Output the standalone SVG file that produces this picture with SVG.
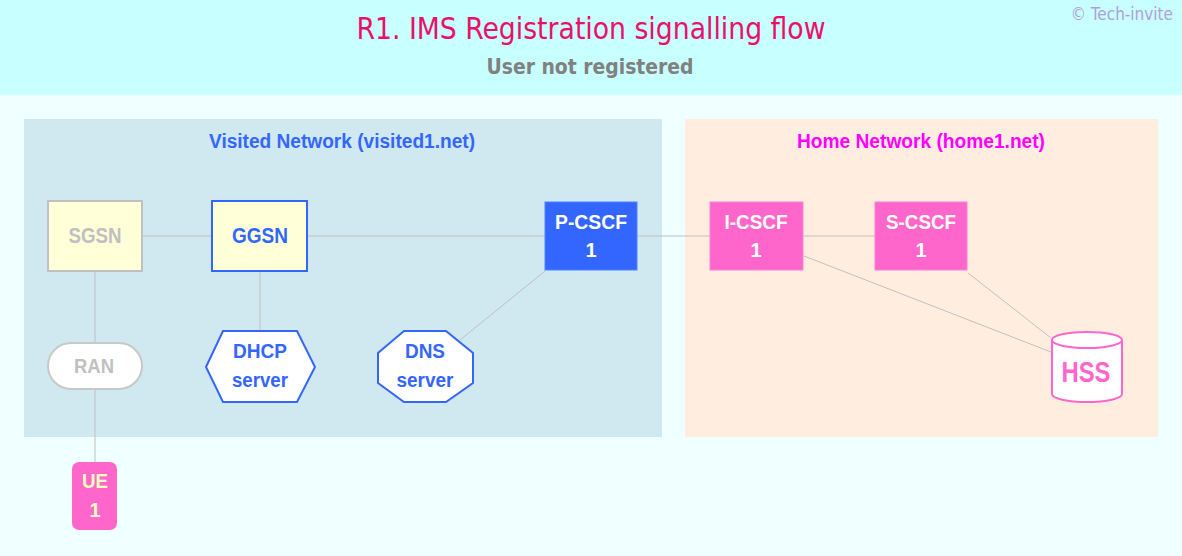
<svg xmlns="http://www.w3.org/2000/svg" width="1182" height="556" viewBox="0 0 1182 556">
<style>
.lbl{font-family:"Liberation Sans",Arial,sans-serif;font-weight:bold;font-size:20px;text-anchor:middle}
.conn line{stroke:#c0c0c0;stroke-width:1}
</style>
<rect x="0" y="0" width="1182" height="556" fill="#f0ffff"/>
<rect x="0" y="0" width="1182" height="95" fill="#c8ffff"/>
<text x="591" y="39" font-family="'DejaVu Sans Condensed','DejaVu Sans',sans-serif" font-size="30" fill="#e8106a" text-anchor="middle" textLength="469" lengthAdjust="spacingAndGlyphs">R1. IMS Registration signalling flow</text>
<text x="590" y="74" font-family="'DejaVu Sans Condensed','DejaVu Sans',sans-serif" font-weight="bold" font-size="21" fill="#808080" text-anchor="middle" textLength="207" lengthAdjust="spacingAndGlyphs">User not registered</text>
<text x="1173" y="20" font-family="'DejaVu Sans Condensed','DejaVu Sans',sans-serif" font-size="17" fill="#b0a0d8" text-anchor="end">© Tech-invite</text>

<g id="visited-network">
<rect x="24" y="119" width="638" height="318" fill="#d0e8f0"/>
<text x="342" y="148" class="lbl" fill="#3366ff" textLength="266" lengthAdjust="spacingAndGlyphs">Visited Network (visited1.net)</text>
</g>
<g id="home-network">
<rect x="685" y="119" width="473" height="318" fill="#ffeee0"/>
<text x="921" y="148" class="lbl" fill="#ff00ff" textLength="248" lengthAdjust="spacingAndGlyphs">Home Network (home1.net)</text>
</g>

<g id="connectors" class="conn">
<line x1="142" y1="236" x2="212" y2="236"/>
<line x1="307" y1="236" x2="545" y2="236"/>
<line x1="637" y1="236" x2="710" y2="236"/>
<line x1="803" y1="236" x2="875" y2="236"/>
<line x1="95" y1="271" x2="95" y2="343"/>
<line x1="95" y1="389" x2="95" y2="462"/>
<line x1="260" y1="271" x2="260" y2="331"/>
<line x1="545" y1="271" x2="460" y2="340"/>
<line x1="804" y1="256" x2="1051" y2="352"/>
<line x1="968" y1="273" x2="1051" y2="338"/>
</g>

<g id="SGSN">
<rect x="48" y="201" width="94" height="70" fill="#ffffd8" stroke="#c0c0c0" stroke-width="2"/>
<text x="95" y="243" class="lbl" style="font-size:22px" fill="#c0c0c0" textLength="53" lengthAdjust="spacingAndGlyphs">SGSN</text>
</g>
<g id="GGSN">
<rect x="212" y="201" width="95" height="70" fill="#ffffd8" stroke="#3366ff" stroke-width="2"/>
<text x="260" y="243" class="lbl" style="font-size:22px" fill="#3366ff" textLength="56" lengthAdjust="spacingAndGlyphs">GGSN</text>
</g>
<g id="P-CSCF">
<rect x="545" y="202" width="92" height="68" fill="#3366ff" stroke="#5080ff" stroke-width="1"/>
<text x="591" y="229" class="lbl" fill="#ffffff" textLength="72" lengthAdjust="spacingAndGlyphs">P-CSCF</text>
<text x="591" y="257" class="lbl" fill="#ffffff">1</text>
</g>
<g id="I-CSCF">
<rect x="710" y="202" width="93" height="68" fill="#ff66cc" stroke="#ff80d8" stroke-width="1"/>
<text x="756" y="229" class="lbl" fill="#ffffff" textLength="63" lengthAdjust="spacingAndGlyphs">I-CSCF</text>
<text x="756" y="257" class="lbl" fill="#ffffff">1</text>
</g>
<g id="S-CSCF">
<rect x="875" y="202" width="92" height="68" fill="#ff66cc" stroke="#ff80d8" stroke-width="1"/>
<text x="921" y="229" class="lbl" fill="#ffffff" textLength="70" lengthAdjust="spacingAndGlyphs">S-CSCF</text>
<text x="921" y="257" class="lbl" fill="#ffffff">1</text>
</g>
<g id="RAN">
<rect x="48" y="343" width="94" height="46" rx="23" ry="23" fill="#ffffff" stroke="#c8c8c8" stroke-width="2"/>
<text x="94" y="373" class="lbl" fill="#c0c0c0" textLength="40" lengthAdjust="spacingAndGlyphs">RAN</text>
</g>
<g id="DHCP">
<polygon points="206,367 223,331 297,331 315,367 297,402 223,402" fill="#ffffff" stroke="#3366ff" stroke-width="2"/>
<text x="260" y="358" class="lbl" fill="#3366ff" textLength="54" lengthAdjust="spacingAndGlyphs">DHCP</text>
<text x="260" y="387" class="lbl" fill="#3366ff" textLength="56" lengthAdjust="spacingAndGlyphs">server</text>
</g>
<g id="DNS">
<polygon points="404,331 446,331 473,353 473,383 446,402 404,402 378,383 378,353" fill="#ffffff" stroke="#3366ff" stroke-width="2"/>
<text x="425" y="358" class="lbl" fill="#3366ff" textLength="40" lengthAdjust="spacingAndGlyphs">DNS</text>
<text x="425" y="387" class="lbl" fill="#3366ff" textLength="57" lengthAdjust="spacingAndGlyphs">server</text>
</g>
<g id="HSS">
<path d="M1052,340 L1052,394 A35,8 0 0 0 1122,394 L1122,340 A35,8 0 0 0 1052,340 Z" fill="#ffffff" stroke="#ff66cc" stroke-width="2"/>
<path d="M1052,340 A35,8 0 0 0 1122,340" fill="none" stroke="#ff66cc" stroke-width="2"/>
<text x="1086" y="382" class="lbl" style="font-size:30px" fill="#ff66cc" textLength="49" lengthAdjust="spacingAndGlyphs">HSS</text>
</g>
<g id="UE">
<rect x="72" y="462" width="45" height="68" rx="7" ry="7" fill="#ff66cc"/>
<text x="95" y="488" class="lbl" fill="#ffffc0" textLength="26" lengthAdjust="spacingAndGlyphs">UE</text>
<text x="95" y="517" class="lbl" fill="#ffffc0">1</text>
</g>
</svg>
